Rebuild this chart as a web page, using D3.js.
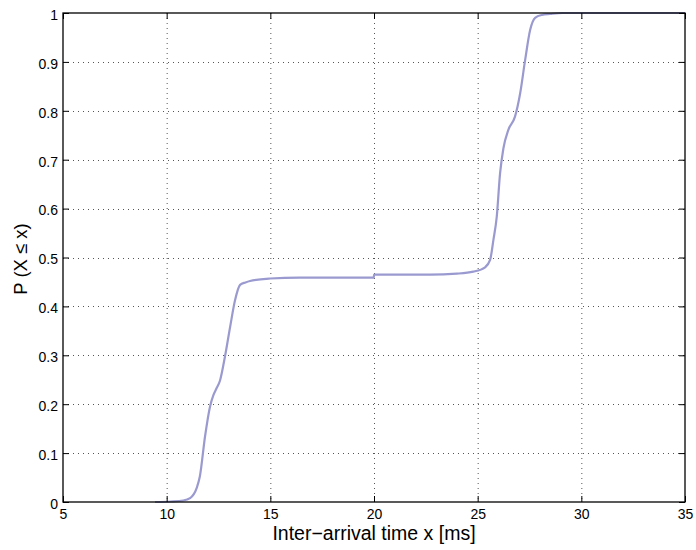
<!DOCTYPE html>
<html><head><meta charset="utf-8">
<script src="https://cdn.jsdelivr.net/npm/d3@7"></script>
<style>body{margin:0;background:#fff}svg{display:block}</style>
</head><body><svg id="c" width="696" height="550"></svg>
<script>
const xTicks = [5,10,15,20,25,30,35];
const yTicks = [0,0.1,0.2,0.3,0.4,0.5,0.6,0.7,0.8,0.9,1];
const yTickLabels = ["0","0.1","0.2","0.3","0.4","0.5","0.6","0.7","0.8","0.9","1"];
const timeMs = [9.44,10.2,10.8,11.13,11.45,11.6,11.85,12.09,12.25,12.4,12.57,12.81,13.06,13.3,13.54,13.8,14.02,14.99,16.4,18,19.99,20.0,22.7,24.0,24.79,25.36,25.6,25.76,25.92,26.08,26.24,26.48,26.8,27.05,27.29,27.53,27.77,28.1,28.5,29.1,35];
const probCdf = [0,0.001,0.003,0.008,0.029,0.052,0.134,0.195,0.218,0.232,0.248,0.297,0.358,0.413,0.444,0.449,0.452,0.457,0.459,0.459,0.459,0.465,0.465,0.467,0.471,0.480,0.495,0.536,0.583,0.672,0.723,0.761,0.788,0.836,0.904,0.965,0.990,0.996,0.998,1.0,1.0];
const xLabel = "Inter\u2212arrival time x [ms]";
const yLabel = "P (X \u2264 x)";

const svg = d3.select("#c");
const L=63,R=685,T=13,B=502;
const x = d3.scaleLinear().domain([5,35]).range([L,R]);
const y = d3.scaleLinear().domain([0,1]).range([B,T]);
const font = "Liberation Sans, Arial, Helvetica, sans-serif";

// grid
const g = svg.append("g");
g.selectAll(".gx").data(xTicks.slice(1,-1)).join("line")
 .attr("x1",d=>x(d)+0.5).attr("x2",d=>x(d)+0.5).attr("y1",T).attr("y2",B)
 .attr("stroke","#555").attr("stroke-width",1).attr("stroke-dasharray","1,4");
g.selectAll(".gy").data(yTicks.slice(1,-1)).join("line")
 .attr("y1",d=>Math.round(y(d))+0.5).attr("y2",d=>Math.round(y(d))+0.5).attr("x1",L).attr("x2",R)
 .attr("stroke","#555").attr("stroke-width",1).attr("stroke-dasharray","1,4");

// curve
const line = d3.line().x((d,i)=>x(timeMs[i])).y(d=>y(d)).curve(d3.curveMonotoneX);
svg.append("path").datum(probCdf).attr("d",line).attr("fill","none")
 .attr("stroke","#9a9ad0").attr("stroke-width",2.2).attr("stroke-linejoin","round");

// axes (inward ticks, MATLAB style)
const xa = d3.axisBottom(x).tickValues(xTicks).tickSize(-6).tickPadding(7).tickFormat(d3.format("d"));
const ya = d3.axisLeft(y).tickValues(yTicks).tickSize(-6).tickPadding(5).tickFormat((d,i)=>yTickLabels[i]);
const gx = svg.append("g").attr("transform",`translate(0,${B})`).call(xa);
const gy = svg.append("g").attr("transform",`translate(${L},0)`).call(ya);
const gxt = svg.append("g").attr("transform",`translate(0,${T})`).call(d3.axisTop(x).tickValues(xTicks).tickSize(-6).tickFormat(""));
const gyr = svg.append("g").attr("transform",`translate(${R},0)`).call(d3.axisRight(y).tickValues(yTicks).tickSize(-6).tickFormat(""));
[gx,gy,gxt,gyr].forEach(a=>{
  a.select(".domain").remove();
  a.selectAll("line").attr("stroke","#000");
  a.selectAll("text").attr("font-family",font).attr("font-size",14).attr("fill","#000");
});
gx.selectAll("text").attr("dy","0.71em");
gy.selectAll("text").attr("dy","0.45em");
svg.append("rect").attr("x",L).attr("y",T).attr("width",R-L).attr("height",B-T)
 .attr("fill","none").attr("stroke","#000").attr("stroke-width",1.3);

svg.append("text").attr("x",(L+R)/2).attr("y",540).attr("text-anchor","middle")
 .attr("font-family",font).attr("font-size",19.5).text(xLabel);
svg.append("text").attr("transform",`translate(27,259) rotate(-90)`).attr("text-anchor","middle")
 .attr("font-family",font).attr("font-size",18.5).text(yLabel);
</script></body></html>
